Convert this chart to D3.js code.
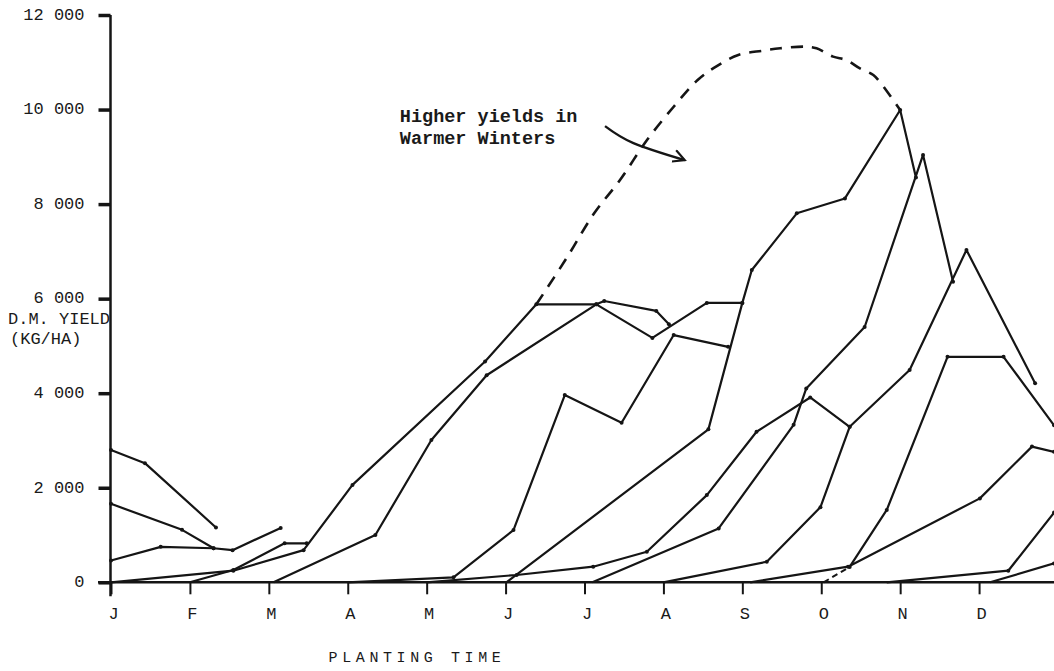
<!DOCTYPE html>
<html>
<head>
<meta charset="utf-8">
<script src="https://cdn.jsdelivr.net/npm/d3@7"></script>
<style>
	body { margin: 0; background: #fff; }
	.display text { font-family: 'Liberation Mono', 'DejaVu Sans Mono', monospace; fill: #1a1a1a; }
</style>
</head>
<body>
<svg class="display"></svg>
<script>
// tick labels
const months = ['J', 'F', 'M', 'A', 'M', 'J', 'J', 'A', 'S', 'O', 'N', 'D'];
const yTicks = [0, 2000, 4000, 6000, 8000, 10000, 12000];

// each series: [planting time in months from J, D.M. yield kg/ha]
// carry-over of last year's late plantings
const carryHigh = [[0, 2800], [0.43, 2520], [1.33, 1160]];
const carryMid = [[0, 1660], [0.9, 1110], [1.3, 720], [1.54, 680], [2.15, 1150]];
const carryLow = [[0, 460], [0.63, 750], [1.3, 720]];
// plantings by month
const plantJan = [[0, 0], [1.55, 245], [2.44, 680], [3.06, 2060], [4.74, 4670], [5.39, 5880], [6.15, 5880], [6.25, 5950], [6.91, 5740], [7.07, 5460]];
const plantFeb = [[1.0, 0], [1.55, 260], [2.2, 825], [2.48, 825]];
const plantMar = [[2.06, 0], [3.35, 1000], [4.06, 3010], [4.76, 4380], [6.15, 5880], [6.86, 5170], [7.55, 5910], [8.0, 5910]];
const plantApr = [[3.0, 0], [4.34, 105], [5.1, 1105], [5.75, 3960], [6.47, 3375], [7.13, 5230], [7.82, 4980]];
const plantMay = [[4.0, 0], [5.14, 155], [6.11, 330], [6.79, 645], [7.55, 1845], [8.18, 3185], [8.86, 3910], [9.36, 3290]];
const plantJun = [[5.01, 0], [7.57, 3235], [8.0, 5910], [8.12, 6605], [8.69, 7805], [9.3, 8120], [10.0, 9990], [10.2, 8565]];
const plantJul = [[6.1, 0], [7.7, 1140], [8.65, 3330], [8.81, 4100], [9.55, 5400], [10.29, 9040], [10.67, 6360]];
const plantAug = [[7.0, 0], [8.31, 435], [8.99, 1590], [9.36, 3290], [10.12, 4490], [10.84, 7030], [11.71, 4210]];
const plantSep = [[8.1, 0], [9.34, 330], [11.01, 1775], [11.67, 2870], [11.95, 2760]];
const plantOctStart = [[9.03, 0], [9.36, 325]];
const plantOct = [[9.36, 325], [9.83, 1530], [10.6, 4770], [11.31, 4770], [11.95, 3320]];
const plantNov = [[9.83, 0], [11.37, 245], [11.95, 1475]];
const plantDec = [[11.14, 0], [11.95, 400]];

// dashed envelope: warmer winters
const warmEnvelope = [[5.39, 5880], [5.77, 6850], [6.12, 7800], [6.45, 8510], [6.79, 9350], [7.13, 10060], [7.43, 10620], [7.63, 10870], [7.94, 11150], [8.26, 11245], [8.48, 11295], [8.81, 11330], [8.94, 11295], [9.15, 11120], [9.32, 11045], [9.49, 10870], [9.66, 10730], [9.74, 10590], [10.0, 9990]];

// annotation
const noteLines = ['Higher yields in', 'Warmer Winters'];
const notePos = [3.66, 9740];
const arrowPath = [[6.26, 9650], [6.62, 9290], [7.27, 8930]];

const totalWidth = 1054,
	totalHeight = 671;

const x = d3.scaleLinear().domain([0, 12]).range([111, 1058]);
const y = d3.scaleLinear().domain([0, 12000]).range([582.3, 15]);

const svg = d3.select('.display').attr('width', totalWidth).attr('height', totalHeight);

const ink = '#151515';
const fmt = (d) => d3.format(',')(d).replace(/,/g, ' ');

//y axis
svg
	.append('g')
	.attr('transform', 'translate(110.5,0)')
	.call(d3.axisLeft(y).tickValues(yTicks).tickSize(12).tickPadding(14).tickFormat(fmt))
	.call((g) => g.select('.domain').remove())
	.call((g) => g.selectAll('line').attr('stroke', ink).attr('stroke-width', 3.5))
	.call((g) => g.selectAll('text').attr('dy', '0.25em').style('font-size', '17px'))
	.attr('font-family', null);

//x axis
svg
	.append('g')
	.attr('transform', 'translate(0,' + y(0) + ')')
	.call(d3.axisBottom(x).tickValues(d3.range(12)).tickSize(12).tickPadding(13).tickFormat((d, i) => months[i]))
	.call((g) => g.select('.domain').remove())
	.call((g) => g.selectAll('line').attr('stroke', ink).attr('stroke-width', 2))
	.call((g) => g.selectAll('text').attr('dx', 2).style('font-size', '17px'))
	.attr('font-family', null);

// axis lines
svg.append('line').attr('x1', 110.5).attr('x2', 110.5).attr('y1', y(12000)).attr('y2', y(0) + 14)
	.attr('stroke', ink).attr('stroke-width', 2.5);
svg.append('line').attr('x1', 98).attr('x2', totalWidth).attr('y1', y(0)).attr('y2', y(0))
	.attr('stroke', ink).attr('stroke-width', 2.5);

// yield lines
const line = d3.line().x((d) => x(d[0])).y((d) => y(d[1]));
const series = [carryHigh, carryMid, carryLow, plantJan, plantFeb, plantMar, plantApr, plantMay,
	plantJun, plantJul, plantAug, plantSep, plantOct, plantNov, plantDec];

svg.append('g')
	.selectAll('path')
	.data(series)
	.enter()
	.append('path')
	.attr('d', line)
	.attr('fill', 'none')
	.attr('stroke', ink)
	.attr('stroke-width', 2.2)
	.attr('stroke-linejoin', 'round');

svg.append('path')
	.attr('d', line(plantOctStart))
	.attr('fill', 'none')
	.attr('stroke', ink)
	.attr('stroke-width', 2)
	.attr('stroke-dasharray', '6,4');

// plotted points
svg.append('g')
	.selectAll('circle')
	.data(series.flatMap((s) => s.filter((d) => d[1] > 0)))
	.enter()
	.append('circle')
	.attr('cx', (d) => x(d[0]))
	.attr('cy', (d) => y(d[1]))
	.attr('r', 2)
	.attr('fill', ink);

// envelope
svg.append('path')
	.attr('d', line.curve(d3.curveCatmullRom)(warmEnvelope))
	.attr('fill', 'none')
	.attr('stroke', ink)
	.attr('stroke-width', 2.6)
	.attr('stroke-dasharray', '12,9');
line.curve(d3.curveLinear);

// note + arrow
svg.append('text')
	.attr('x', x(notePos[0]))
	.attr('y', y(notePos[1]))
	.style('font-size', '18.5px')
	.style('font-weight', 'bold')
	.selectAll('tspan')
	.data(noteLines)
	.enter()
	.append('tspan')
	.attr('x', x(notePos[0]))
	.attr('dy', (d, i) => (i ? 22.5 : 0))
	.text((d) => d);

svg.append('defs')
	.append('marker')
	.attr('id', 'head')
	.attr('viewBox', '-12 -8 14 16')
	.attr('refX', 0)
	.attr('refY', 0)
	.attr('markerWidth', 14)
	.attr('markerHeight', 16)
	.attr('markerUnits', 'userSpaceOnUse')
	.attr('orient', 'auto')
	.append('path')
	.attr('d', 'M-11,-7 L0,0 L-12,5')
	.attr('fill', 'none')
	.attr('stroke', ink)
	.attr('stroke-width', 2.2);

svg.append('path')
	.attr('d', d3.line().x((d) => x(d[0])).y((d) => y(d[1])).curve(d3.curveNatural)(arrowPath))
	.attr('fill', 'none')
	.attr('stroke', ink)
	.attr('stroke-width', 2.4)
	.attr('marker-end', 'url(#head)');

// axis titles
svg.append('text').attr('x', 8).attr('y', 324).style('font-size', '17px').text('D.M. YIELD');
svg.append('text').attr('x', 10).attr('y', 344).style('font-size', '17px').text('(KG/HA)');
svg.append('text')
	.attr('x', 417)
	.attr('y', 662)
	.attr('text-anchor', 'middle')
	.style('font-size', '15px')
	.style('letter-spacing', '4.6px')
	.text('PLANTING TIME');
</script>
</body>
</html>
